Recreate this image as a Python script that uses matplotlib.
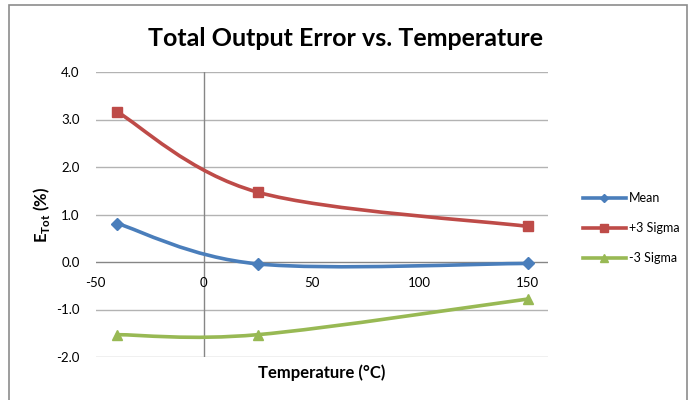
import matplotlib
matplotlib.use("Agg")
import matplotlib.pyplot as plt
from matplotlib.path import Path
from matplotlib.patches import PathPatch, Rectangle
from matplotlib.lines import Line2D
import matplotlib.transforms as mtrans
import numpy as np

plt.rcParams['font.family'] = ['Lato', 'DejaVu Sans']
plt.rcParams['mathtext.fontset'] = 'custom'
plt.rcParams['mathtext.rm'] = 'Lato'
plt.rcParams['mathtext.bf'] = 'Lato:bold'

temps = [-40, 25, 150]
mean = [0.81, -0.04, -0.03]
plus3 = [3.16, 1.47, 0.75]
minus3 = [-1.53, -1.53, -0.78]
series_names = ["Mean", "+3 Sigma", "-3 Sigma"]
colors = ["#4A7EBB", "#BE4B48", "#98B954"]
markers = ["D", "s", "^"]
msizes = [6, 7.5, 7.5]

x_ticks = [-50, 0, 50, 100, 150]
y_ticks = [-2.0, -1.0, 0.0, 1.0, 2.0, 3.0, 4.0]

fig = plt.figure(figsize=(6.92, 4.0), dpi=100)
ax = fig.add_axes([95.7/692, 1-357/400, (548-95.7)/692, (357-72)/400])

# outer chart border
fig.patches.append(Rectangle((8.5/692, -0.05), (687-8.5)/692, 1.05-5.5/400,
                             transform=fig.transFigure, fill=False,
                             edgecolor="#8c8c8c", linewidth=1.2))

ax.set_xlim(-50, 159.4)
ax.set_ylim(-2.0, 4.0)
for s in ax.spines.values():
    s.set_visible(False)

for yv in y_ticks:
    if yv != 0:
        ax.axhline(yv, color="#b3b3b3", linewidth=1.0, zorder=1)
ax.axhline(0, color="#868686", linewidth=1.0, zorder=1)
ax.axvline(0, color="#868686", linewidth=1.0, zorder=1)

ax.set_yticks(y_ticks)
ax.set_yticklabels([f"{v:.1f}" for v in y_ticks])
ax.tick_params(axis='y', length=0, pad=11.5, labelsize=9.5)
ax.set_xticks([])
for xv in x_ticks:
    ax.annotate(str(xv), xy=(xv, 0), xycoords='data', xytext=(0, -15),
                textcoords='offset points', ha='center', va='center', fontsize=9.5)


def smooth_path(xs, ys):
    pts = [np.array(ax.transData.transform((x, y))) for x, y in zip(xs, ys)]
    n = len(pts)
    verts = [pts[0]]
    codes = [Path.MOVETO]
    for i in range(n - 1):
        p0 = pts[i - 1] if i > 0 else pts[i]
        p1 = pts[i]
        p2 = pts[i + 1]
        p3 = pts[i + 2] if i + 2 < n else pts[i + 1]
        c1 = p1 + (p2 - p0) / 6.0
        c2 = p2 - (p3 - p1) / 6.0
        verts += [c1, c2, p2]
        codes += [Path.CURVE4] * 3
    return Path(verts, codes)

fig.canvas.draw()
handles = []
for ys, name, c, m, ms in zip([mean, plus3, minus3], series_names, colors, markers, msizes):
    path = smooth_path(temps, ys)
    patch = PathPatch(path, facecolor='none', edgecolor=c, linewidth=2.6,
                      zorder=3, capstyle='round', joinstyle='round')
    patch.set_transform(mtrans.IdentityTransform())
    fig.add_artist(patch)
    ax.plot(temps, ys, linestyle='none', marker=m, markersize=ms, color=c,
            markeredgecolor=c, zorder=4, clip_on=False)
    handles.append(Line2D([], [], color=c, linewidth=2.6, marker=m,
                          markersize=ms * 0.7, markeredgecolor=c, label=name))

fig.legend(handles=handles, loc='center left', bbox_to_anchor=(583/692, 1-228/400),
           frameon=False, fontsize=9, handlelength=3.4, handletextpad=0.3,
           labelspacing=1.45, borderaxespad=0, borderpad=0)

fig.text(346/692, 1-38/400, "Total Output Error vs. Temperature", ha='center',
         va='center', fontsize=18, fontweight='bold')
fig.text(322/692, 1-373/400, "Temperature (\u00b0C)", ha='center', va='center',
         fontsize=12, fontweight='bold')
fig.text(42/692, 1-215/400, r"E$_{\mathbf{Tot}}$ (%)", ha='center', va='center',
         rotation=90, fontsize=12, fontweight='bold')

fig.savefig("out.png", dpi=100)
